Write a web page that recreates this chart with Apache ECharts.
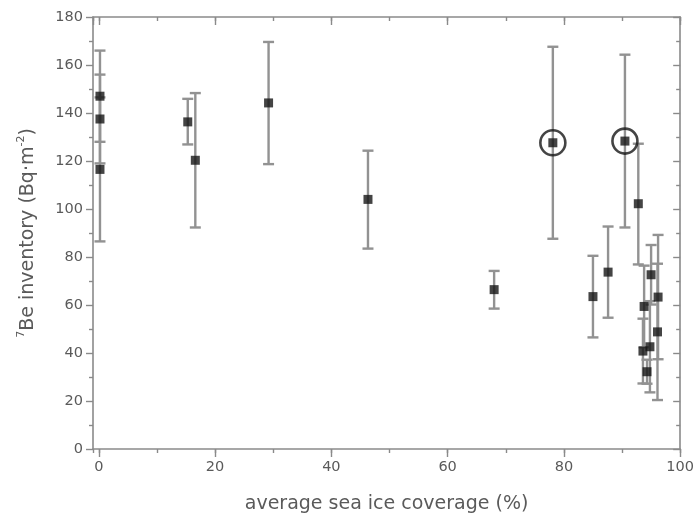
<!DOCTYPE html>
<html>
<head>
<meta charset="utf-8">
<script src="https://cdn.jsdelivr.net/npm/echarts@6/dist/echarts.min.js"></script>
<style>
  html, body { margin: 0; padding: 0; background: #fff; }
  #chart { width: 697px; height: 519px; }
</style>
</head>
<body>
<div id="chart"></div>
<script>
// Average sea ice coverage (%) at each station
const iceCover = [0.2, 0.2, 0.2, 15.3, 16.6, 29.2, 46.3, 68.0, 78.1, 85.0,
                  87.6, 90.5, 92.8, 93.8, 93.6, 94.3, 94.8, 95.0, 96.2, 96.1];
// 7Be inventory (Bq m^-2)
const beInventory = [147.0, 137.5, 116.5, 136.3, 120.3, 144.2, 104.0, 66.4, 127.6, 63.5,
                     73.7, 128.3, 102.2, 59.4, 40.8, 32.2, 42.6, 72.6, 63.3, 48.8];
// Uncertainties (upper / lower)
const errUp = [19.0, 18.5, 30.0, 9.6, 28.0, 25.4, 20.3, 7.8, 40.0, 17.0,
               19.0, 36.0, 25.0, 17.0, 13.5, 5.0, 19.0, 12.4, 25.9, 28.4];
const errDown = [19.0, 18.5, 30.0, 9.4, 28.0, 25.5, 20.5, 7.9, 40.0, 17.0,
                 19.0, 36.0, 25.3, 17.0, 13.5, 5.0, 19.0, 12.4, 25.9, 28.4];
// Stations marked with a ring
const highlighted = [8, 11];

const points = iceCover.map((x, i) => [x, beInventory[i]]);
const bars = iceCover.map((x, i) => [x, beInventory[i] - errDown[i], beInventory[i] + errUp[i]]);
const ringed = highlighted.map(i => [iceCover[i], beInventory[i]]);

const FONT = 'DejaVu Sans';
const AXIS_COLOR = '#8a8a8a';
const TEXT_COLOR = '#5a5a5a';

function xAxisDef(pos, split, tickLen, inside, withLabels, withLine) {
  return {
    type: 'value', position: pos, min: -1, max: 100, splitNumber: split,
    axisLine: { show: withLine, onZero: false, lineStyle: { color: AXIS_COLOR, width: 1.6 } },
    axisTick: { show: true, inside: inside, length: tickLen, lineStyle: { color: AXIS_COLOR, width: 1.4 } },
    axisLabel: {
      show: withLabels, showMinLabel: false, margin: 11,
      color: TEXT_COLOR, fontFamily: FONT, fontSize: 14.5
    },
    splitLine: { show: false }
  };
}

function yAxisDef(pos, inside, withLabels) {
  return {
    type: 'value', position: pos, min: 0, max: 180, interval: 20,
    axisLine: { show: true, onZero: false, lineStyle: { color: AXIS_COLOR, width: 1.6 } },
    axisTick: { show: true, inside: inside, length: 7, lineStyle: { color: AXIS_COLOR, width: 1.4 } },
    minorTick: { show: true, splitNumber: 2, length: 4, lineStyle: { color: AXIS_COLOR, width: 1.4 } },
    axisLabel: { show: withLabels, margin: 10, color: TEXT_COLOR, fontFamily: FONT, fontSize: 14.5 },
    splitLine: { show: false }
  };
}

const xBottom = xAxisDef('bottom', 5, 8, false, true, true);
xBottom.name = 'average sea ice coverage (%)';
xBottom.nameLocation = 'middle';
xBottom.nameGap = 46;
xBottom.nameTextStyle = { color: TEXT_COLOR, fontFamily: FONT, fontSize: 19 };

const yLeft = yAxisDef('left', false, true);
yLeft.name = '{sup|7}{n|Be inventory (Bq·m}{sup|-2}{n|)}';
yLeft.nameLocation = 'middle';
yLeft.nameGap = 53;
yLeft.nameTextStyle = {
  color: TEXT_COLOR, fontFamily: FONT, fontSize: 19,
  rich: {
    n: { color: TEXT_COLOR, fontFamily: FONT, fontSize: 19, lineHeight: 24 },
    sup: { color: TEXT_COLOR, fontFamily: FONT, fontSize: 11, lineHeight: 24, verticalAlign: 'top' }
  }
};

const chart = echarts.init(document.getElementById('chart'), null, { renderer: 'canvas' });
chart.setOption({
  animation: false,
  backgroundColor: '#fff',
  grid: { left: 93, right: 12, top: 17, bottom: 68, containLabel: false },
  xAxis: [
    xBottom,
    xAxisDef('bottom', 10, 4, false, false, false),
    xAxisDef('top', 5, 8, true, false, true),
    xAxisDef('top', 10, 4, true, false, false)
  ],
  yAxis: [
    yLeft,
    yAxisDef('right', true, false)
  ],
  series: [
    {
      type: 'custom',
      xAxisIndex: 0, yAxisIndex: 0,
      data: bars,
      z: 2,
      renderItem: function (params, api) {
        const lo = api.coord([api.value(0), api.value(1)]);
        const hi = api.coord([api.value(0), api.value(2)]);
        const half = 5.5;
        const style = { stroke: '#929292', lineWidth: 2.4 };
        return {
          type: 'group',
          children: [
            { type: 'line', shape: { x1: lo[0], y1: lo[1], x2: hi[0], y2: hi[1] }, style: style },
            { type: 'line', shape: { x1: hi[0] - half, y1: hi[1], x2: hi[0] + half, y2: hi[1] }, style: style },
            { type: 'line', shape: { x1: lo[0] - half, y1: lo[1], x2: lo[0] + half, y2: lo[1] }, style: style }
          ]
        };
      }
    },
    {
      type: 'scatter',
      xAxisIndex: 0, yAxisIndex: 0,
      data: points,
      symbol: 'rect',
      symbolSize: 9,
      itemStyle: { color: '#151515' },
      z: 3
    },
    {
      type: 'scatter',
      xAxisIndex: 0, yAxisIndex: 0,
      data: ringed,
      symbol: 'circle',
      symbolSize: 25,
      itemStyle: { color: 'rgba(0,0,0,0)', borderColor: '#151515', borderWidth: 2.6 },
      z: 4
    }
  ]
});
</script>
</body>
</html>
